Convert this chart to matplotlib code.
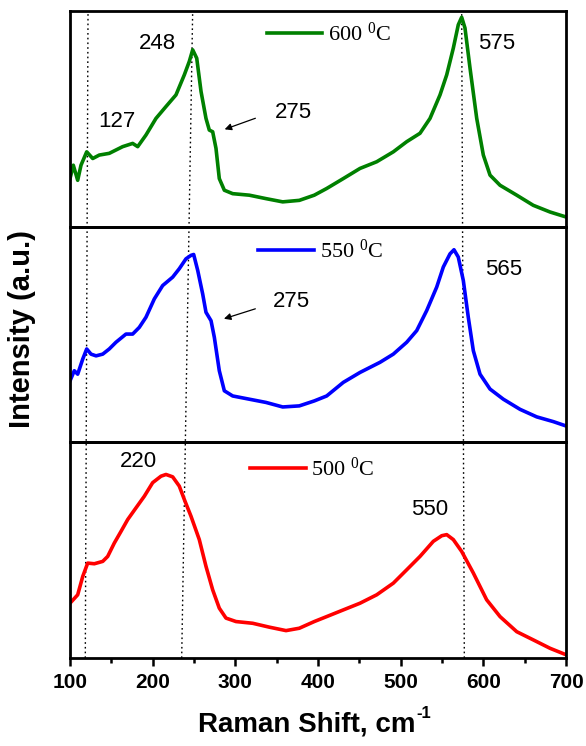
import matplotlib
matplotlib.use("Agg")
import matplotlib.pyplot as plt
from matplotlib.ticker import MultipleLocator
from matplotlib.transforms import offset_copy

plt.rcParams['font.family'] = ['Liberation Sans', 'DejaVu Sans']
plt.rcParams['mathtext.fontset'] = 'custom'
plt.rcParams['mathtext.rm'] = 'Liberation Serif'
plt.rcParams['mathtext.it'] = 'Liberation Serif:italic'
plt.rcParams['mathtext.bf'] = 'Liberation Serif:bold'

# ---- data (Raman shift in cm^-1, normalized intensity per panel) ----
x600 = [100, 104, 109.3, 113.3, 120.2, 127.5, 135.4, 147.5, 163.7, 175.8, 181.9, 191.9, 204,
        216.1, 228.2, 238.3, 244.3, 248.4, 253.3, 258.5, 264.5, 268.5, 272.6, 276.6, 280.6,
        286.7, 296.8, 316.9, 337.1, 357.3, 377.4, 395.5, 410.5, 430.6, 450.8, 471, 491.1,
        507.3, 523.4, 535.5, 547.6, 555.7, 563.7, 569.7, 573.8, 577.8, 583.9, 592, 600,
        608.1, 620.2, 640.4, 660.4, 680.7, 700]
y600 = [0.223, 0.285, 0.215, 0.285, 0.347, 0.316, 0.332, 0.340, 0.371, 0.386, 0.371, 0.425, 0.502,
        0.557, 0.611, 0.704, 0.766, 0.820, 0.781, 0.627, 0.502, 0.448, 0.440, 0.363, 0.223,
        0.169, 0.153, 0.146, 0.130, 0.115, 0.122, 0.146, 0.177, 0.223, 0.270, 0.301, 0.347,
        0.394, 0.433, 0.502, 0.611, 0.704, 0.828, 0.936, 0.971, 0.921, 0.735, 0.502, 0.332,
        0.239, 0.192, 0.146, 0.099, 0.068, 0.045]

x550 = [100, 105.2, 109.3, 115.4, 120.2, 125.4, 131.5, 139.6, 147.5, 155.6, 167.7, 175.8, 183.8,
        191.9, 202, 212.1, 224.2, 232.2, 240.3, 246.4, 249.6, 254.5, 260.5, 264.5, 270.6, 274.6,
        280.6, 286.7, 296.8, 316.9, 337.1, 357.3, 377.4, 395.5, 410.5, 430.6, 450.8, 475, 491.1,
        507.3, 519.4, 531.5, 543.6, 551.6, 559.7, 564.5, 569.7, 575.8, 581.8, 587.9, 596, 608.1,
        624.2, 644.4, 664.6, 684.7, 700]
y550 = [0.285, 0.332, 0.316, 0.386, 0.433, 0.409, 0.401, 0.409, 0.433, 0.464, 0.502, 0.502, 0.533,
        0.580, 0.665, 0.727, 0.766, 0.805, 0.851, 0.867, 0.871, 0.797, 0.688, 0.603, 0.564, 0.487,
        0.332, 0.239, 0.215, 0.200, 0.185, 0.164, 0.169, 0.192, 0.215, 0.278, 0.324, 0.371, 0.409,
        0.464, 0.518, 0.611, 0.720, 0.813, 0.874, 0.893, 0.859, 0.750, 0.580, 0.425, 0.316, 0.247,
        0.200, 0.153, 0.118, 0.096, 0.076]

x500 = [100, 109.3, 115.4, 121.4, 129.4, 139.6, 145.6, 153.6, 161.7, 169.8, 179.8, 189.9, 200,
        210.1, 216.1, 224.2, 232.2, 238.3, 246.4, 256.4, 264.5, 272.6, 280.6, 288.7, 300.8, 321,
        341.1, 361.3, 377.4, 395.5, 410.5, 430.6, 450.8, 471, 491.1, 507.3, 523.4, 539.5, 549.7,
        555.7, 563.7, 573.8, 587.9, 604, 620.2, 640.4, 660.4, 680.7, 698.8]
y500 = [0.254, 0.293, 0.378, 0.440, 0.437, 0.448, 0.471, 0.533, 0.587, 0.642, 0.696, 0.750, 0.813,
        0.843, 0.851, 0.840, 0.797, 0.735, 0.657, 0.549, 0.425, 0.316, 0.231, 0.185, 0.169, 0.161,
        0.143, 0.127, 0.138, 0.169, 0.192, 0.223, 0.254, 0.293, 0.347, 0.409, 0.471, 0.541, 0.567,
        0.572, 0.549, 0.494, 0.394, 0.270, 0.192, 0.122, 0.084, 0.045, 0.017]

labels = ['600 $^0$C', '550 $^0$C', '500 $^0$C']
colors = ['#008000', '#0000ff', '#ff0000']

# dotted guide lines: (x at top of figure area, x at bottom)
guide_top = [121.8, 248.4, 573.8]
guide_bottom = [118.5, 235.1, 577.0]

xticks = [100, 200, 300, 400, 500, 600, 700]

# ---- layout ----
fig = plt.figure(figsize=(5.86, 7.46), dpi=100)
left = 70 / 586
width = 496 / 586
top_px, bot_px = 11, 658
h = (bot_px - top_px) / 3 / 746
bottoms = [1 - (top_px + (i + 1) * (bot_px - top_px) / 3) / 746 for i in range(3)]

overlay = fig.add_axes([left, 1 - bot_px / 746, width, (bot_px - top_px) / 746], zorder=0)
overlay.set_xlim(100, 700)
overlay.set_ylim(0, 1)
overlay.axis('off')
for xt, xb in zip(guide_top, guide_bottom):
    overlay.plot([xb, xt], [0, 1], color='black', lw=1.0, ls=(0, (1.2, 2.2)))

axes = []
for i in range(3):
    ax = fig.add_axes([left, bottoms[i], width, h], zorder=1)
    ax.patch.set_alpha(0)
    ax.set_xlim(100, 700)
    ax.set_ylim(0, 1)
    ax.set_yticks([])
    for s in ax.spines.values():
        s.set_linewidth(2.0)
    axes.append(ax)

data = [(x600, y600), (x550, y550), (x500, y500)]
for ax, (xs, ys), lab, c in zip(axes, data, labels, colors):
    ax.plot(xs, ys, color=c, lw=2.6, label=lab)

leg_pos = [(0.397, 0.892), (0.380, 0.885), (0.363, 0.874)]
for ax, pos in zip(axes, leg_pos):
    ax.legend(loc='center left', bbox_to_anchor=pos, frameon=False, borderpad=0,
              borderaxespad=0, handlelength=2.5, handletextpad=0.25,
              prop={'family': 'Liberation Serif', 'size': 16})

for ax in axes[:2]:
    ax.set_xticks([])
axes[2].set_xticks(xticks)
axes[2].xaxis.set_minor_locator(MultipleLocator(50))
axes[2].tick_params(axis='x', which='major', direction='out', length=6, width=1.8,
                    labelsize=15, pad=5)
axes[2].tick_params(axis='x', which='minor', direction='out', length=3.5, width=1.8)
for lab in axes[2].get_xticklabels():
    lab.set_fontweight('bold')

# annotations
ta = dict(fontsize=16, ha='center', va='center')
axes[0].text(205.2, 0.851, '248', **ta)
axes[0].text(156.9, 0.488, '127', **ta)
axes[0].text(369.8, 0.530, '275', **ta)
axes[0].text(616.5, 0.847, '575', **ta)
axes[0].annotate('', xy=(283.9, 0.447), xytext=(327.4, 0.507),
                 arrowprops=dict(arrowstyle='-|>', color='black', lw=0.9,
                                 mutation_scale=10))
axes[1].text(367.3, 0.653, '275', **ta)
axes[1].text(624.2, 0.800, '565', **ta)
axes[1].annotate('', xy=(283.0, 0.569), xytext=(327.4, 0.623),
                 arrowprops=dict(arrowstyle='-|>', color='black', lw=0.9,
                                 mutation_scale=10))
axes[2].text(182.7, 0.913, '220', **ta)
axes[2].text(535.5, 0.688, '550', **ta)

# x label with a bold sans superscript
xl = fig.text(198 / 586, 1 - 724 / 746, 'Raman Shift, cm', ha='left', va='center',
              fontsize=20, fontweight='bold')
renderer = fig.canvas.get_renderer()
bb = xl.get_window_extent(renderer)
fig.text(bb.x1 / fig.bbox.width + 0.002, 1 - 713 / 746, '-1', ha='left', va='center',
         fontsize=12, fontweight='bold')
fig.text(22 / 586, 1 - 329 / 746, 'Intensity (a.u.)', rotation=90,
         ha='center', va='center', fontsize=21, fontweight='bold')

fig.savefig('out.png', dpi=100)
